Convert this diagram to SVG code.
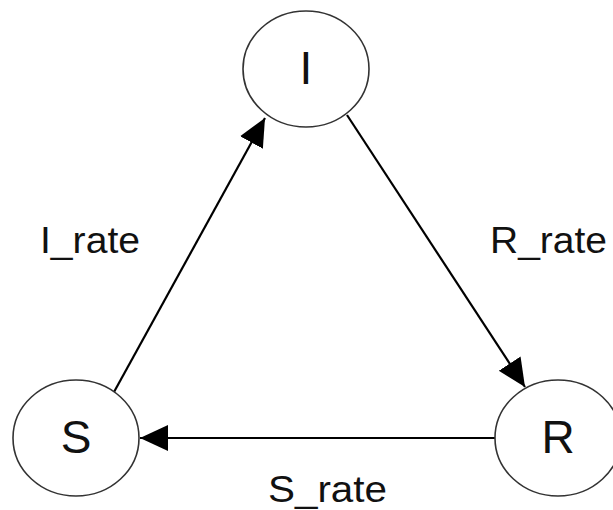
<svg xmlns="http://www.w3.org/2000/svg" width="613" height="510" viewBox="0 0 613 510">
<style>
.node ellipse{fill:#fff;stroke:#333;stroke-width:1.6}
.lbl{font-family:"Liberation Sans",Arial,sans-serif;font-size:46px;fill:#111;text-anchor:middle}
.elbl{font-family:"Liberation Sans",Arial,sans-serif;font-size:36px;fill:#111}
.edge{stroke:#000;stroke-width:2.2;fill:none;marker-end:url(#ah)}
</style>
<defs>
<marker id="ah" markerUnits="userSpaceOnUse" markerWidth="30" markerHeight="28" refX="28" refY="13" orient="auto">
<path d="M0,0 L28,13 L0,26 z" fill="#000"/>
</marker>
</defs>
<rect width="613" height="510" fill="#fff"/>
<g id="connectors">
<line class="edge" x1="114" y1="392" x2="265" y2="118"/>
<line class="edge" x1="347" y1="115" x2="525" y2="387"/>
<line class="edge" x1="495" y1="438" x2="140" y2="438"/>
</g>
<g id="node-I" class="node"><ellipse cx="306" cy="69" rx="63" ry="58"/><text class="lbl" x="306" y="84">I</text></g>
<g id="node-S" class="node"><ellipse cx="76" cy="438" rx="63" ry="58"/><text class="lbl" x="76" y="453">S</text></g>
<g id="node-R" class="node"><ellipse cx="558" cy="438" rx="63" ry="58"/><text class="lbl" x="558" y="453">R</text></g>
<g id="edge-labels">
<text class="elbl" x="40" y="253" textLength="100" lengthAdjust="spacingAndGlyphs">I_rate</text>
<text class="elbl" x="490" y="253" textLength="117" lengthAdjust="spacingAndGlyphs">R_rate</text>
<text class="elbl" x="268" y="502" textLength="119" lengthAdjust="spacingAndGlyphs">S_rate</text>
</g>
</svg>
